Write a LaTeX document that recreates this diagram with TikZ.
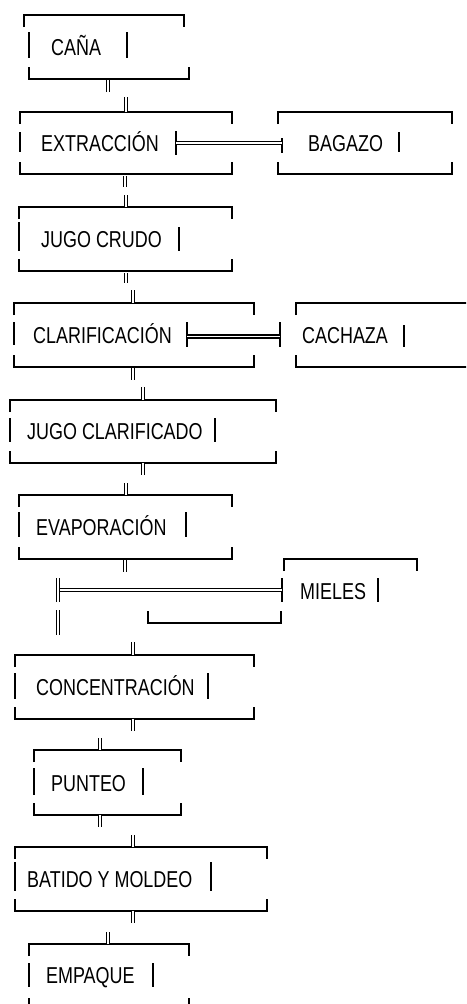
\documentclass[tikz,border=0pt]{standalone}
\usepackage{fontspec}
\setmainfont{Liberation Sans}[FakeStretch=0.78]

% piezas de caja
\newcommand{\arriba}[3]{\draw[li] (#1,#3+12) -- (#1,#3) -- (#2,#3) -- (#2,#3+12);}
\newcommand{\abajo}[3]{\draw[li] (#1,#3-12) -- (#1,#3) -- (#2,#3) -- (#2,#3-12);}
\newcommand{\barra}[3]{\draw[li] (#1,#2) -- (#1,#3);}

\begin{document}
\begin{tikzpicture}[x=1pt,y=-1pt]

\tikzstyle{tx} = [anchor=base west, inner sep=0pt, font=\fontsize{23}{27}\selectfont]
\tikzstyle{li} = [line width=1.3pt, black]
\tikzstyle{dob} = [line width=1.1pt, draw=black, double=white, double distance=1.9pt]

\clip (0,0) rectangle (466,1004);

\node (cana) [tx] at (51,55) {CAÑA};
\node (extraccion) [tx] at (41,151) {EXTRACCIÓN};
\node (bagazo) [tx] at (308,151) {BAGAZO};
\node (crudo) [tx] at (41,247) {JUGO CRUDO};
\node (clarificacion) [tx] at (33,343) {CLARIFICACIÓN};
\node (cachaza) [tx] at (302,343) {CACHAZA};
\node (clarificado) [tx] at (27,439) {JUGO CLARIFICADO};
\node (evaporacion) [tx] at (36,535) {EVAPORACIÓN};
\node (mieles) [tx] at (300,599) {MIELES};
\node (concentracion) [tx] at (36,695) {CONCENTRACIÓN};
\node (punteo) [tx] at (51,791) {PUNTEO};
\node (batido) [tx] at (27,887) {BATIDO Y MOLDEO};
\node (empaque) [tx] at (46,983) {EMPAQUE};

% CAÑA
\arriba{24}{184}{15} \abajo{29}{189}{79}
\barra{29}{32}{58} \barra{127}{32}{58}
% EXTRACCION y BAGAZO
\arriba{20}{232}{112} \abajo{20}{232}{174}
\barra{20}{132}{152} \barra{176}{131}{155}
\arriba{278}{452}{112} \abajo{278}{452}{174}
\barra{282}{138}{153} \barra{399}{132}{152}
\coordinate (extr-r) at (176,143);
\coordinate (baga-l) at (282,143);
\draw[dob] (extr-r) -- (baga-l);
% JUGO CRUDO
\arriba{19}{232}{207} \abajo{19}{232}{271}
\barra{19}{222}{251} \barra{179}{227}{251}
% CLARIFICACION y CACHAZA
\arriba{14}{254}{303} \abajo{14}{254}{367}
\barra{14}{322}{345} \barra{187}{322}{347}
\arriba{296}{480}{303} \abajo{296}{480}{367}
\barra{280}{322}{347} \barra{404}{325}{347}
\coordinate (clar-r) at (187,336.5);
\coordinate (cach-l) at (280,336.5);
\draw[dob] (clar-r) -- (cach-l);
% JUGO CLARIFICADO
\arriba{10}{276}{400} \abajo{10}{276}{463}
\barra{10}{418}{442} \barra{215}{418}{442}
% EVAPORACION
\arriba{19}{232}{495} \abajo{19}{232}{559}
\barra{19}{512}{537} \barra{186}{512}{537}
% MIELES
\arriba{284}{417}{559} \abajo{148}{281}{623}
\barra{282}{578}{602} \barra{378}{578}{602}
\coordinate (evap-s) at (60,590);
\coordinate (miel-l) at (282,590);
\draw[dob] (evap-s) -- (miel-l);
\draw[dob] (58,578) -- (58,602);
\draw[dob] (58,610) -- (58,635);
% CONCENTRACION
\arriba{15}{254}{655} \abajo{15}{254}{719}
\barra{15}{673}{699} \barra{208}{673}{699}
% PUNTEO
\arriba{34}{181}{750} \abajo{34}{181}{815}
\barra{34}{768}{795} \barra{143}{768}{795}
% BATIDO Y MOLDEO
\arriba{15}{267}{847} \abajo{15}{267}{911}
\barra{15}{862}{891} \barra{211}{862}{891}
% EMPAQUE
\arriba{29}{189}{944} \abajo{29}{189}{1010}
\barra{29}{963}{987} \barra{153}{963}{987}

% uniones
\draw[dob] (108,80) -- (108,92);
\draw[dob] (126,97) -- (126,112);
\draw[dob] (125,176) -- (125,187);
\draw[dob] (126,195) -- (126,207);
\draw[dob] (126,273) -- (126,283);
\draw[dob] (133,290) -- (133,303);
\draw[dob] (133,368) -- (133,380);
\draw[dob] (143,387) -- (143,400);
\draw[dob] (143,463) -- (143,475);
\draw[dob] (126,483) -- (126,495);
\draw[dob] (125,560) -- (125,572);
\draw[dob] (133,642) -- (133,655);
\draw[dob] (133,719) -- (133,731);
\draw[dob] (100,738) -- (100,750);
\draw[dob] (100,815) -- (100,827);
\draw[dob] (133,835) -- (133,847);
\draw[dob] (133,911) -- (133,923);
\draw[dob] (108,932) -- (108,944);
\end{tikzpicture}
\end{document}
